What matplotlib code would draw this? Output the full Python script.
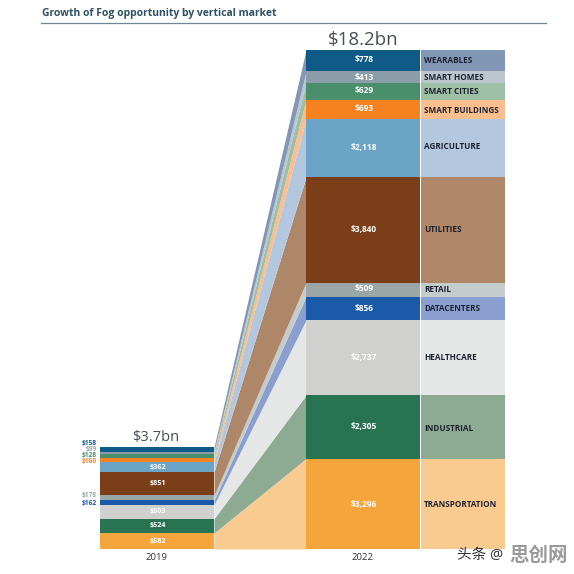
import matplotlib
matplotlib.use("Agg")
import matplotlib.pyplot as plt
import numpy as np

plt.rcParams['font.family'] = ['Open Sans', 'Noto Sans CJK SC', 'DejaVu Sans']

# bottom to top
markets = ["TRANSPORTATION", "INDUSTRIAL", "HEALTHCARE", "DATACENTERS", "RETAIL", "UTILITIES",
           "AGRICULTURE", "SMART BUILDINGS", "SMART CITIES", "SMART HOMES", "WEARABLES"]
values_2019 = [582, 524, 503, 162, 178, 851, 362, 160, 128, 99, 158]
values_2022 = [3296, 2305, 2737, 856, 509, 3840, 2118, 693, 629, 413, 778]
labels_2019 = ["$582", "$524", "$503", "$162", "$178", "$851", "$362", "$160", "$128", "$99", "$158"]
labels_2022 = ["$3,296", "$2,305", "$2,737", "$856", "$509", "$3,840", "$2,118", "$693", "$629", "$413", "$778"]
solid = ["#F5A53B", "#277352", "#D0D0CF", "#1B5AA8", "#9BA6A6", "#7A3F18",
         "#6BA4C6", "#F5821F", "#4A8F6C", "#8B9DA8", "#105A87"]
light = ["#FACB91", "#8DAB92", "#E4E7E5", "#8A9FCF", "#C5CCCC", "#AE8668",
         "#B3C8DF", "#FBBE8C", "#9DBFA5", "#BCC6CE", "#8197B5"]
outside_2019 = {3: "#1B5AA8", 4: "#9BA6A6", 7: "#F5821F", 8: "#4A8F6C", 9: "#9BA6A6", 10: "#105A87"}

W = 574
per_px = sum(values_2022) / 499.0
fig = plt.figure(figsize=(5.74, 5.74), dpi=100)
ax = fig.add_axes([0, 0, 1, 1])
ax.set_xlim(0, W)
ax.set_ylim(-(W - 549) * per_px, 549 * per_px)
ax.axis("off")

x19_l, x19_r, x22_l, x22_r, band_r = 100, 214, 306, 420, 505
b19 = np.concatenate([[0], np.cumsum(values_2019)])
b22 = np.concatenate([[0], np.cumsum(values_2022)])

# small vertical text nudges, in pixels
name_nudge = [-0.5, -2, 0, 0, 0, 0, 1.5, -1, 0, 0, 0]
value_nudge = [-0.5, 0, 0, 0, 1, 0, 0.5, 1, 1, 0, 1]

for i, m in enumerate(markets):
    ax.fill_between([x19_r, x22_l], [b19[i], b22[i]], [b19[i + 1], b22[i + 1]],
                    color=light[i], lw=0, zorder=1)
    ax.bar((x19_l + x19_r) / 2, values_2019[i], x19_r - x19_l, bottom=b19[i], color=solid[i], lw=0, zorder=2)
    ax.bar((x22_l + x22_r) / 2, values_2022[i], x22_r - x22_l, bottom=b22[i], color=solid[i], lw=0, zorder=2)
    ax.bar((x22_r + 1 + band_r) / 2, values_2022[i], band_r - x22_r - 1, bottom=b22[i], color=light[i], lw=0, zorder=2)
    ax.text((x22_l + x22_r) / 2 + 1, b22[i] + values_2022[i] / 2 + value_nudge[i] * per_px, labels_2022[i],
            color="white", fontsize=6.0, fontweight="bold", ha="center", va="center", zorder=3)
    ax.text(424, b22[i] + values_2022[i] / 2 + name_nudge[i] * per_px, m, color="#1c2230", fontsize=5.85,
            fontweight="bold", ha="left", va="center", zorder=3)
    if i not in outside_2019:
        ax.text((x19_l + x19_r) / 2 + 1, b19[i] + values_2019[i] / 2, labels_2019[i], color="white",
                fontsize=5.2, fontweight="bold", ha="center", va="center", zorder=3)

# stacked left-hand labels sit at rows
outside_rows = {10: 444, 9: 450, 8: 455.7, 7: 461.7, 4: 496, 3: 503}
for i, row in outside_rows.items():
    ax.text(97, (549 - row) * per_px, labels_2019[i], color=outside_2019[i], fontsize=4.8,
            fontweight="bold", ha="right", va="center", zorder=3)

ax.text(156, (549 - 437) * per_px, "$3.7bn", color="#4a4f55", fontsize=10.5, ha="center", va="center")
ax.text(363, (549 - 40) * per_px, "$18.2bn", color="#4a4f55", fontsize=13.5, ha="center", va="center")
ax.text(156, (549 - 557) * per_px, "2019", color="#333333", fontsize=6.8, ha="center", va="center")
ax.text(363, (549 - 557) * per_px, "2022", color="#333333", fontsize=6.8, ha="center", va="center")

ax.text(42, (549 - 13.5) * per_px, "Growth of Fog opportunity by vertical market", color="#2f5166",
        fontsize=7.45, fontweight="bold", ha="left", va="center")
ax.plot([41, 546], [(549 - 22.5) * per_px] * 2, color="#6f8794", lw=0.9)

ax.text(457, (549 - 556) * per_px, "头条 @", color="#333333", fontsize=10.5, ha="left", va="center", zorder=4)
ax.text(509, (549 - 555.5) * per_px, "思创网", color="#9a9a9a", fontsize=14, fontweight="bold", ha="left", va="center", zorder=4)

fig.savefig("out.png", dpi=100, facecolor="white")
